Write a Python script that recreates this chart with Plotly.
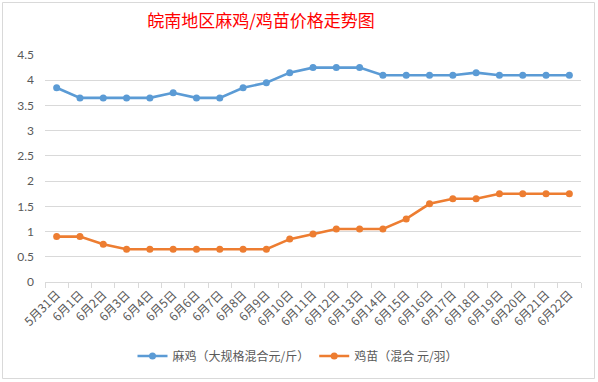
import plotly.graph_objects as go

categories = ["5月31日"] + [f"6月{d}日" for d in range(1, 23)]
mj_values = [3.85, 3.65, 3.65, 3.65, 3.65, 3.75, 3.65, 3.65, 3.85, 3.95, 4.15, 4.25,
             4.25, 4.25, 4.1, 4.1, 4.1, 4.1, 4.15, 4.1, 4.1, 4.1, 4.1]
jm_values = [0.9, 0.9, 0.75, 0.65, 0.65, 0.65, 0.65, 0.65, 0.65, 0.65, 0.85, 0.95,
             1.05, 1.05, 1.05, 1.25, 1.55, 1.65, 1.65, 1.75, 1.75, 1.75, 1.75]
y_ticks = [0, 0.5, 1, 1.5, 2, 2.5, 3, 3.5, 4, 4.5]
y_tick_text = ["0", "0.5", "1", "1.5", "2", "2.5", "3", "3.5", "4", "4.5"]

FONT = "Lato, 'Noto Sans CJK SC', sans-serif"
CJK = "'Noto Sans CJK SC', sans-serif"

fig = go.Figure()
fig.add_trace(go.Scatter(
    x=categories, y=mj_values, mode="lines+markers",
    name="麻鸡（大规格混合元/斤）",
    line=dict(color="#5B9BD5", width=2.6),
    marker=dict(color="#5B9BD5", size=7),
))
fig.add_trace(go.Scatter(
    x=categories, y=jm_values, mode="lines+markers",
    name="鸡苗（混合 元/羽）",
    line=dict(color="#ED7D31", width=2.6),
    marker=dict(color="#ED7D31", size=7),
))

L, R, T, B = 45, 17, 55, 100
W, H = 598, 382
pw = W - L - R
ph = H - T - B

def px2x(px):
    return (px - L) / pw

def py2y(py):
    return (H - B - py) / ph

fig.update_layout(
    width=W, height=H,
    margin=dict(l=L, r=R, t=T, b=B, pad=0, autoexpand=False),
    paper_bgcolor="white", plot_bgcolor="white",
    font=dict(family=FONT, size=12, color="#595959"),
    title=dict(text="皖南地区麻鸡/鸡苗价格走势图", x=261 / W, xanchor="center",
               y=1 - 21 / H, yanchor="middle",
               font=dict(family=CJK, size=17, color="#FF0000")),
    showlegend=True,
    legend=dict(orientation="h", x=px2x(298), xanchor="center", y=py2y(356), yanchor="middle",
                font=dict(family=CJK, size=12, color="#595959"), itemwidth=30,
                bgcolor="rgba(0,0,0,0)"),
    xaxis=dict(type="category", tickson="boundaries", ticks="outside", ticklen=5,
               tickcolor="#D9D9D9", showline=True, linecolor="#D9D9D9", linewidth=1,
               showgrid=False, tickangle=-45, automargin=False,
               tickfont=dict(family=CJK, size=12, color="#595959"),
               range=[-0.5, len(categories) - 0.5], fixedrange=True),
    yaxis=dict(range=[0, 4.5], tickvals=y_ticks, ticktext=y_tick_text, showgrid=True,
               gridcolor="#D9D9D9", gridwidth=1, zeroline=False, showline=False,
               ticks="", automargin=False, tickfont=dict(family=FONT, size=12, color="#595959"),
               ticklabelstandoff=10, fixedrange=True),
    shapes=[dict(type="rect", xref="paper", yref="paper",
                 x0=px2x(2.5), x1=px2x(594.5), y0=py2y(378.5), y1=py2y(2.5),
                 line=dict(color="#D9D9D9", width=1), layer="below")],
)

fig.write_html("out.html", config={"displayModeBar": False},
               post_script="document.body.style.margin='0px';document.body.style.overflow='hidden';")
